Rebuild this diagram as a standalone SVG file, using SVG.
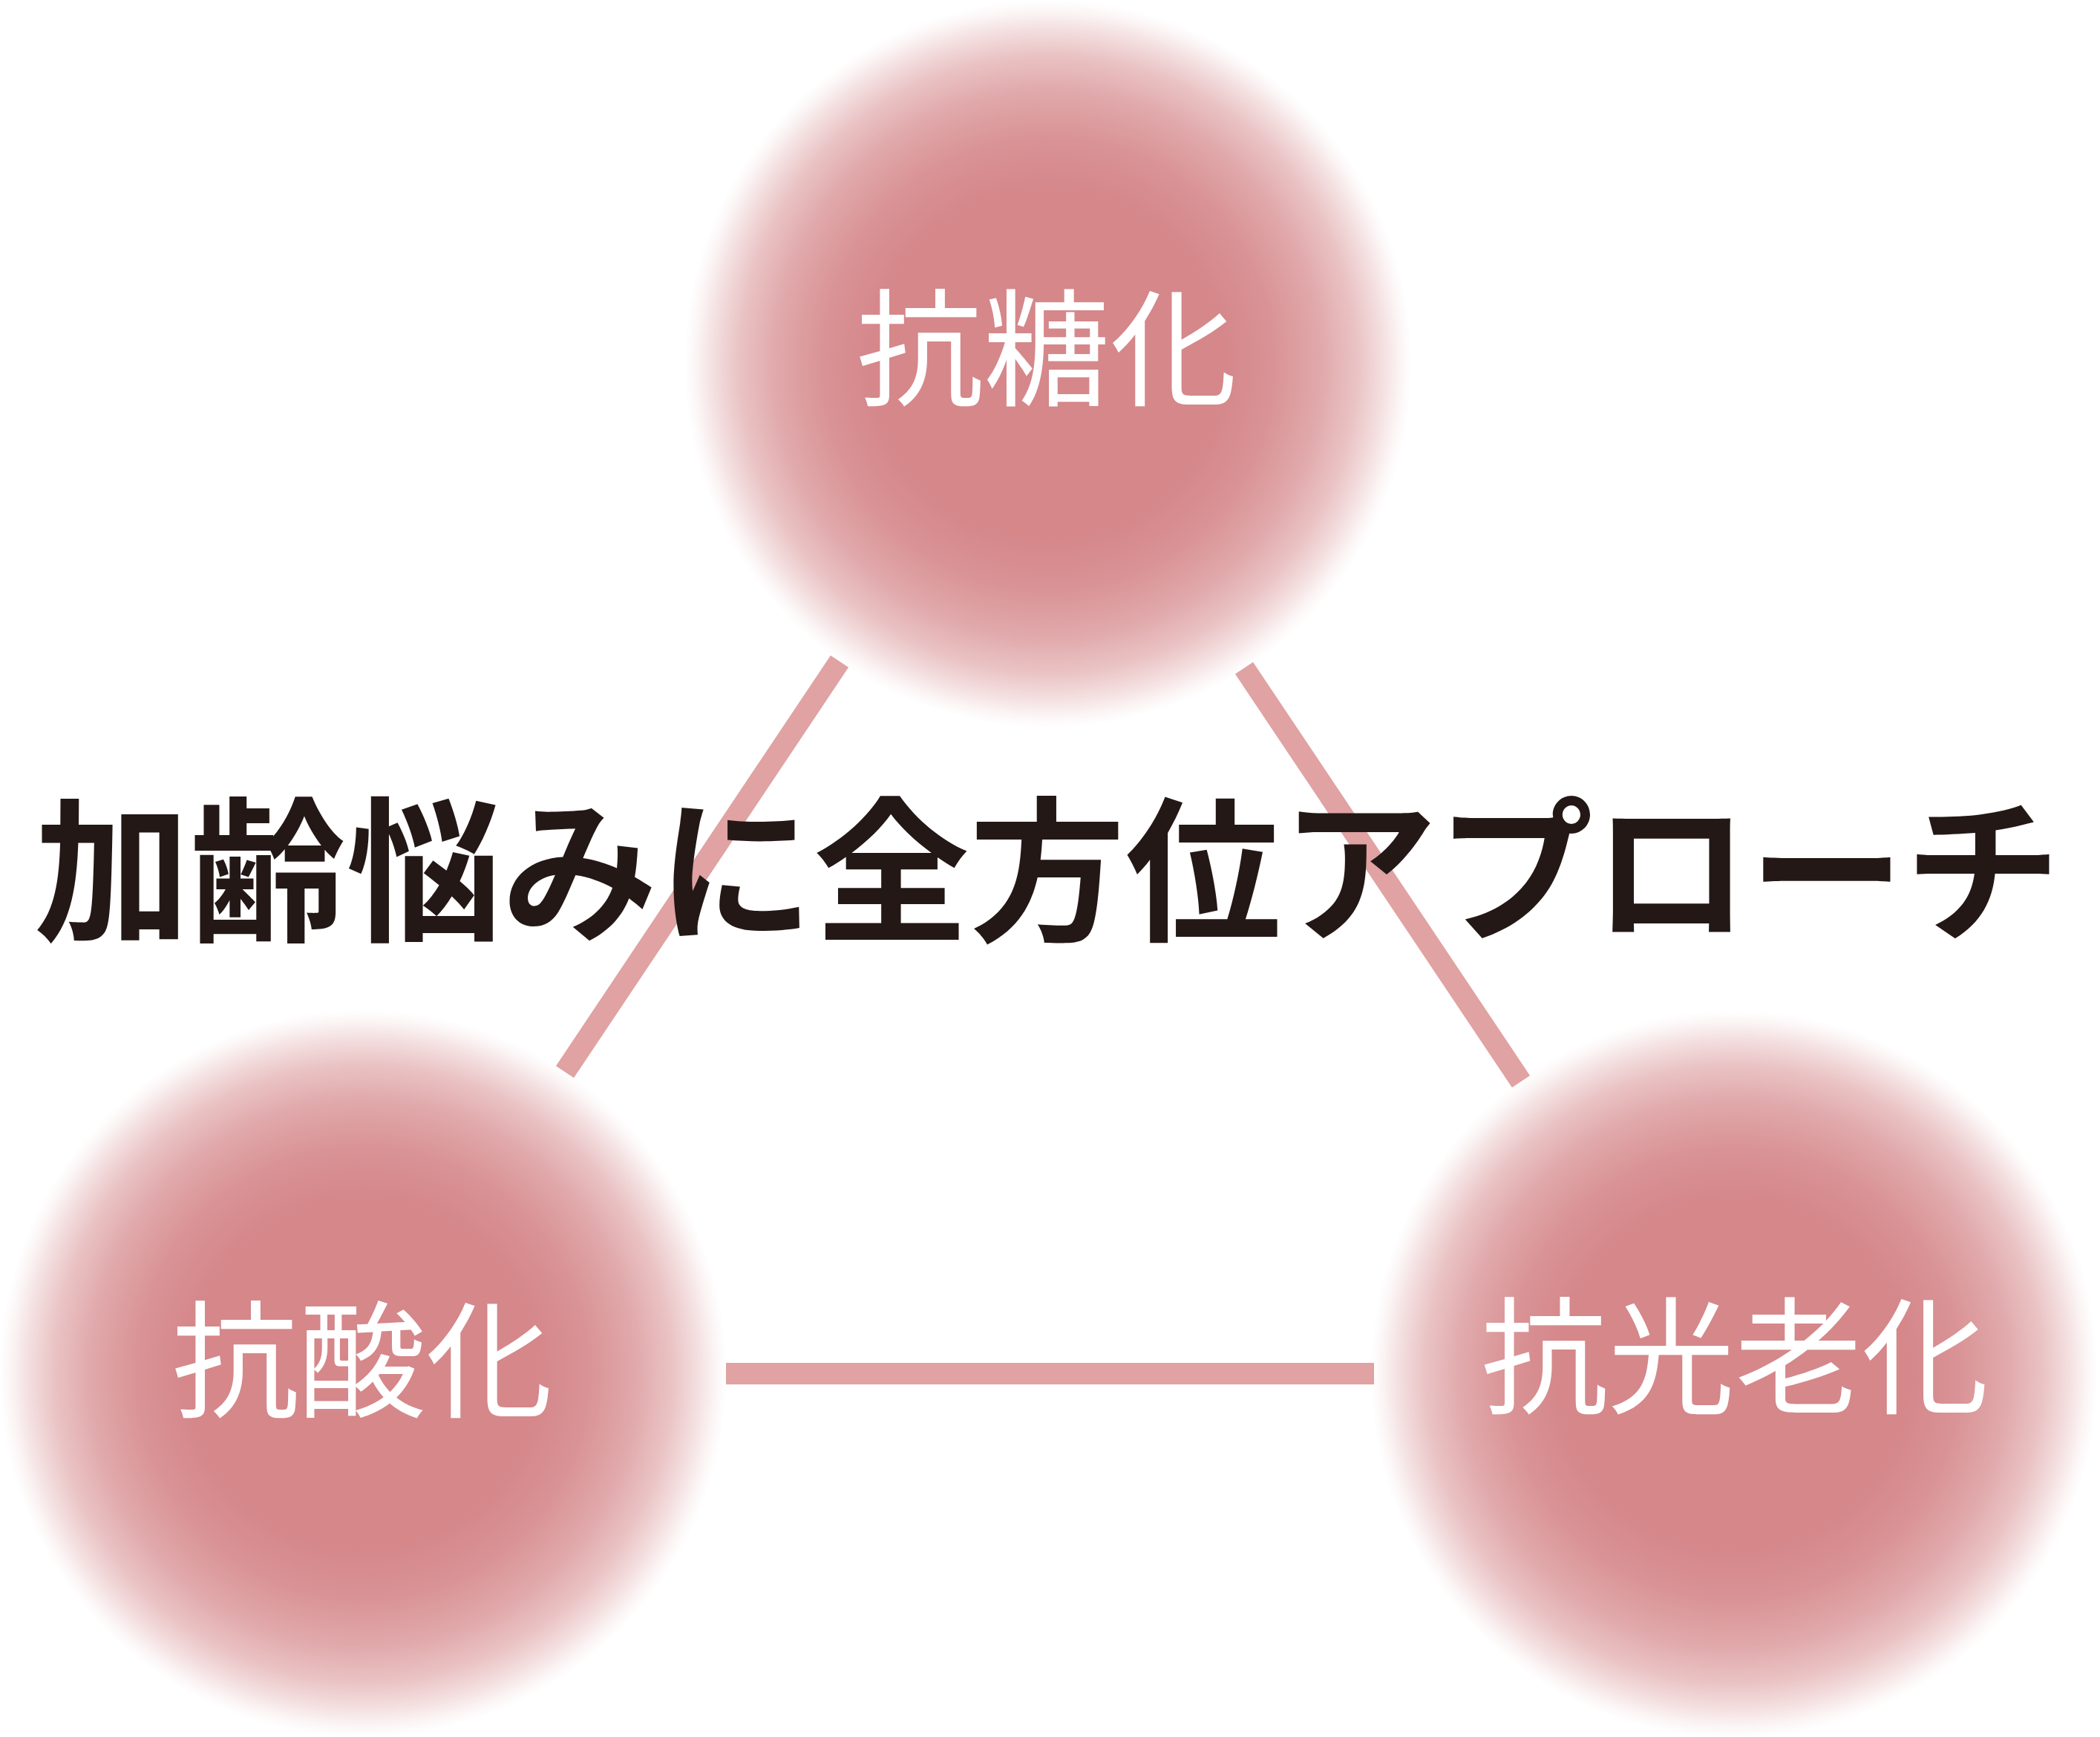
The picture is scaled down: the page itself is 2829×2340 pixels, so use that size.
<svg xmlns="http://www.w3.org/2000/svg" width="2829" height="2340" viewBox="0 0 2829 2340">
  <defs>
    <radialGradient id="blob" cx="0.5" cy="0.5" r="0.5">
      <stop offset="0" stop-color="#d5878a" stop-opacity="1"/>
      <stop offset="0.48" stop-color="#d5878a" stop-opacity="1"/>
      <stop offset="0.62" stop-color="#d5878a" stop-opacity="0.9"/>
      <stop offset="0.75" stop-color="#d5878a" stop-opacity="0.72"/>
      <stop offset="0.85" stop-color="#d5878a" stop-opacity="0.5"/>
      <stop offset="0.92" stop-color="#d5878a" stop-opacity="0.27"/>
      <stop offset="0.97" stop-color="#d5878a" stop-opacity="0.08"/>
      <stop offset="1" stop-color="#d5878a" stop-opacity="0"/>
    </radialGradient>
    <style>
      .conn { stroke: #e0a2a2; stroke-width: 29; stroke-linecap: butt; fill: none; }
      .blob { fill: url(#blob); }
      .label { font-family: "Noto Sans CJK JP", "Noto Sans", sans-serif; font-size: 171px; font-weight: 400; fill: #ffffff; text-anchor: middle; dominant-baseline: central; }
      .title { font-family: "Noto Sans CJK JP", "Noto Sans", sans-serif; font-size: 210px; font-weight: 700; fill: #231815; text-anchor: middle; dominant-baseline: central; }
    </style>
  </defs>
  <rect x="0" y="0" width="2829" height="2340" fill="#ffffff"/>
  <g id="connectors">
    <line class="conn" x1="1131" y1="891" x2="761" y2="1444"/>
    <line class="conn" x1="1676" y1="900" x2="2049" y2="1457"/>
    <line class="conn" x1="978" y1="1850.5" x2="1851" y2="1850.5"/>
  </g>
  <g id="node-antiglycation">
    <circle class="blob" cx="1412" cy="490" r="490"/>
    <text class="label" x="1410" y="458">抗糖化</text>
  </g>
  <g id="node-antioxidation">
    <circle class="blob" cx="489" cy="1850" r="490"/>
    <text class="label" x="488" y="1821">抗酸化</text>
  </g>
  <g id="node-antiphotoaging">
    <circle class="blob" cx="2336" cy="1851" r="490"/>
    <text class="label" x="2337" y="1816">抗光老化</text>
  </g>
  <g id="title">
    <text class="title" x="1411" y="1160">加齢悩みに全方位アプローチ</text>
  </g>
</svg>
